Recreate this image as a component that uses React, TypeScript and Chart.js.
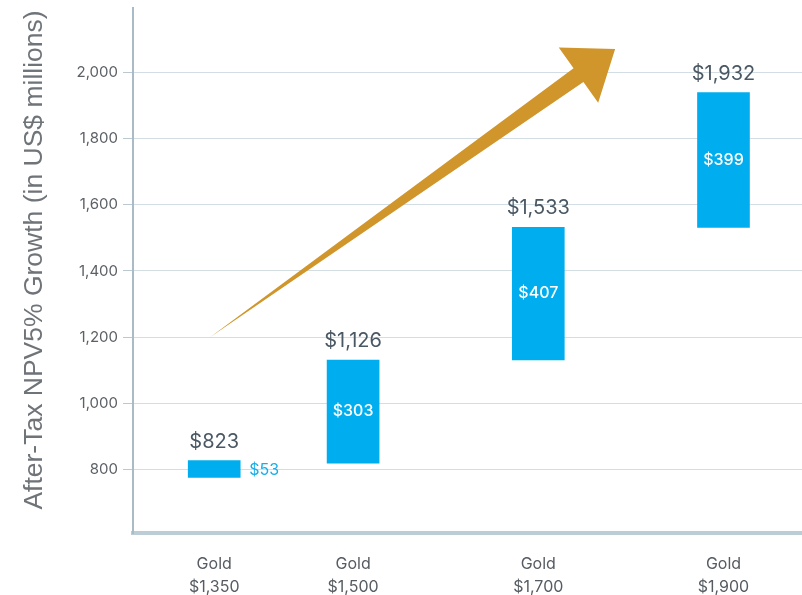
import React, { useEffect, useRef } from "react";
import { Chart, registerables } from "chart.js";

Chart.register(...registerables);

// ---- data ----
const goldPrices = [1350, 1500, 1700, 1900];
const categoryLines = [
  ["Gold", "$1,350"],
  ["Gold", "$1,500"],
  ["Gold", "$1,700"],
  ["Gold", "$1,900"],
];
const barStarts = [776, 819, 1131, 1532];
const barEnds = [827, 1131, 1532, 1939];
const totalLabels = ["$823", "$1,126", "$1,533", "$1,932"];
const changeLabels = ["$53", "$303", "$407", "$399"];
const yTicks = [800, 1000, 1200, 1400, 1600, 1800, 2000];
const arrowFrom = { x: 1345.5, y: 1200 };
const arrowTo = { x: 1783, y: 2071 };
const yTitle = "After-Tax NPV5% Growth (in US$ millions)";

const BAR_COLOR = "#00aeef";
const FONT = "Inter, 'Noto Sans', sans-serif";

const arrowPlugin = {
  id: "arrowPlugin",
  beforeDatasetsDraw(chart: any) {
    const { ctx, scales } = chart;
    const x = scales.x;
    const y = scales.y;
    const tx = x.getPixelForValue(arrowFrom.x);
    const ty = y.getPixelForValue(arrowFrom.y);
    const px = x.getPixelForValue(arrowTo.x);
    const py = y.getPixelForValue(arrowTo.y);
    const dx = px - tx;
    const dy = py - ty;
    const len = Math.sqrt(dx * dx + dy * dy);
    const ux = dx / len;
    const uy = dy / len;
    const nx = -uy;
    const ny = ux;
    const headLen = 45;
    const headW = 34;
    const shaftW = 8.5;
    const bx = px - ux * headLen;
    const by = py - uy * headLen;
    ctx.save();
    ctx.fillStyle = "#d0962b";
    ctx.beginPath();
    ctx.moveTo(tx, ty);
    ctx.lineTo(bx + nx * shaftW, by + ny * shaftW);
    ctx.lineTo(bx + nx * headW, by + ny * headW);
    ctx.lineTo(px, py);
    ctx.lineTo(bx - nx * headW, by - ny * headW);
    ctx.lineTo(bx - nx * shaftW, by - ny * shaftW);
    ctx.closePath();
    ctx.fill();
    ctx.restore();
  },
};

const labelPlugin = {
  id: "labelPlugin",
  afterDatasetsDraw(chart: any) {
    const { ctx, scales } = chart;
    const meta = chart.getDatasetMeta(0);
    ctx.save();
    meta.data.forEach((el: any, i: number) => {
      const top = scales.y.getPixelForValue(barEnds[i]);
      const bottom = scales.y.getPixelForValue(barStarts[i]);
      const cx = el.x;
      const half = el.width / 2;
      ctx.textAlign = "center";
      ctx.textBaseline = "middle";
      ctx.fillStyle = "#4a5864";
      ctx.font = `400 20px ${FONT}`;
      ctx.fillText(totalLabels[i], cx, top - 19);
      const mid = (top + bottom) / 2;
      if (bottom - top > 30) {
        ctx.fillStyle = "#ffffff";
        ctx.font = `500 16px ${FONT}`;
        ctx.fillText(changeLabels[i], cx, mid);
      } else {
        ctx.fillStyle = "#1aaee8";
        ctx.font = `400 16px ${FONT}`;
        ctx.textAlign = "left";
        ctx.fillText(changeLabels[i], cx + half + 9, mid + 1.5);
      }
    });
    // y axis title
    ctx.translate(35, 260);
    ctx.rotate(-Math.PI / 2);
    ctx.textAlign = "center";
    ctx.textBaseline = "middle";
    ctx.fillStyle = "#6f7479";
    ctx.font = "26.5px 'Liberation Sans', Arial, sans-serif";
    ctx.fillText(yTitle, 0, 0);
    ctx.restore();
  },
};

export default function App() {
  const ref = useRef<HTMLCanvasElement | null>(null);
  useEffect(() => {
    if (!ref.current) return;
    const chart = new Chart(ref.current, {
      type: "bar",
      data: {
        datasets: [
          {
            data: goldPrices.map((g, i) => ({ x: g, y: [barStarts[i], barEnds[i]] })) as any,
            backgroundColor: BAR_COLOR,
            borderWidth: 0,
            barThickness: 52,
          },
        ],
      },
      options: {
        animation: false,
        responsive: false,
        events: [],
        layout: { padding: { top: 8, left: 0, right: 0, bottom: 0 } },
        plugins: { legend: { display: false }, tooltip: { enabled: false } },
        scales: {
          x: {
            type: "linear",
            min: 1262.3,
            max: 1984.8,
            offset: false,
            afterBuildTicks: (s: any) => {
              s.ticks = goldPrices.map((v) => ({ value: v }));
            },
            afterFit: (s: any) => {
              s.height = 62;
              s.paddingLeft = 0;
              s.paddingRight = 0;
            },
            grid: { display: false, drawTicks: false, offset: false },
            border: { color: "#bccdd7", width: 4 },
            ticks: {
              padding: 20,
              maxRotation: 0,
              autoSkip: false,
              color: "#565c62",
              font: { family: FONT, size: 16, lineHeight: 1.44 },
              callback: (_v: any, idx: number) => categoryLines[idx],
            },
          },
          y: {
            type: "linear",
            min: 608,
            max: 2195,
            afterBuildTicks: (s: any) => {
              s.ticks = yTicks.map((v) => ({ value: v }));
            },
            afterFit: (s: any) => {
              s.width = 133;
              s.paddingTop = 0;
              s.paddingBottom = 0;
            },
            grid: { color: "#d3dde4", tickColor: "#b9c8d1", tickLength: 10, lineWidth: 1 },
            border: { color: "#a8bbc7", width: 2 },
            ticks: {
              padding: 5,
              color: "#5c6166",
              font: { family: FONT, size: 15 },
              callback: (v: any) => Number(v).toLocaleString("en-US"),
            },
          },
        },
      } as any,
      plugins: [arrowPlugin, labelPlugin],
    });
    return () => chart.destroy();
  }, []);
  return (
    <div style={{ position: "absolute", left: 0, top: 0, width: 802, height: 595, background: "#fff" }}>
      <canvas ref={ref} width={802} height={595} style={{ display: "block" }} />
    </div>
  );
}
